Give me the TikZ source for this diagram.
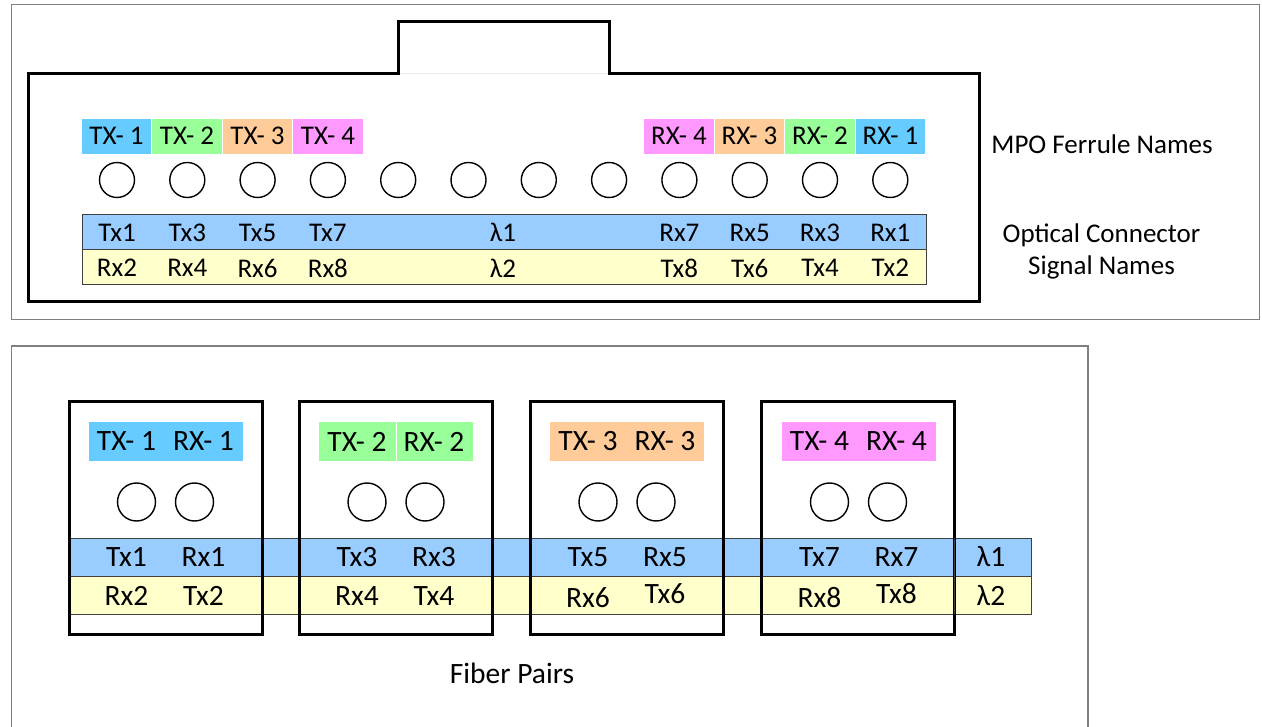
\documentclass[tikz,border=0pt]{standalone}
\usepackage{fontspec}
\setmainfont{Carlito}
\definecolor{cyanlbl}{HTML}{66CCFF}
\definecolor{greenlbl}{HTML}{99FF99}
\definecolor{orangelbl}{HTML}{FFCC99}
\definecolor{pinklbl}{HTML}{FF99FF}
\definecolor{blueband}{HTML}{99CCFF}
\definecolor{yellowband}{HTML}{FFFFCC}
\definecolor{panelgray}{HTML}{7F7F7F}
\begin{document}
\begin{tikzpicture}[x=1pt,y=-1pt,
  panel/.style={draw=panelgray,line width=1.2pt},
  heavy/.style={draw=black,line width=3pt,line join=miter},
  lbl/.style={font=\fontsize{27}{32}\selectfont,inner sep=0pt,anchor=center},
  lblb/.style={font=\fontsize{29.5}{34}\selectfont,inner sep=0pt,anchor=center},
  ferrule/.style={draw=white,line width=0.8pt,minimum width=70.5pt,minimum height=36pt,inner sep=0pt},
  pairlbl/.style={minimum width=154pt,minimum height=39pt,inner sep=0pt},
  fiber/.style={circle,draw=black,line width=1.4pt,minimum size=35pt,inner sep=0pt},
  fiberb/.style={circle,draw=black,line width=1.4pt,minimum size=38pt,inner sep=0pt},
  bandline/.style={draw=black!75,line width=1pt},
]
\useasboundingbox (0,0) rectangle (1262,727);
% ---------------- top panel ----------------
\draw[panel] (11.5,4.5) rectangle (1259.5,319.5);
\draw[black!8,line width=0.8pt] (398,73) -- (609,73);
\draw[heavy] (28,302) -- (28,74) -- (398,74) -- (398,22) -- (609,22) -- (609,74) -- (979,74) -- (979,302) -- cycle;
% ferrule name labels
\node[ferrule,fill=cyanlbl]   (ftx1) at (116.5,136) {};
\node[ferrule,fill=greenlbl]  (ftx2) at (187,136) {};
\node[ferrule,fill=orangelbl] (ftx3) at (257.5,136) {};
\node[ferrule,fill=pinklbl]   (ftx4) at (328,136) {};
\node[ferrule,fill=pinklbl]   (frx4) at (679,136) {};
\node[ferrule,fill=orangelbl] (frx3) at (749.5,136) {};
\node[ferrule,fill=greenlbl]  (frx2) at (820,136) {};
\node[ferrule,fill=cyanlbl]   (frx1) at (890.5,136) {};
\node[lbl] (tftx1) at (ftx1) {TX- 1};
\node[lbl] (tftx2) at (ftx2) {TX- 2};
\node[lbl] (tftx3) at (ftx3) {TX- 3};
\node[lbl] (tftx4) at (ftx4) {TX- 4};
\node[lbl] (tfrx4) at (frx4) {RX- 4};
\node[lbl] (tfrx3) at (frx3) {RX- 3};
\node[lbl] (tfrx2) at (frx2) {RX- 2};
\node[lbl] (tfrx1) at (frx1) {RX- 1};
% fibres
\foreach \i in {0,...,11}{
  \node[fiber] (c\i) at ({117+70.3*\i},180) {};
}
% signal bars
\filldraw[fill=blueband,bandline] (82,215) rectangle (926,250);
\filldraw[fill=yellowband,bandline] (82,250) rectangle (926,285);
\node[lbl] (s1) at (117,232.5) {Tx1};
\node[lbl] (s2) at (187.3,232.5) {Tx3};
\node[lbl] (s3) at (257.6,232.5) {Tx5};
\node[lbl] (s4) at (327.9,232.5) {Tx7};
\node[lbl] (s5) at (503,232.5) {λ1};
\node[lbl] (s6) at (679.4,232.5) {Rx7};
\node[lbl] (s7) at (749.7,232.5) {Rx5};
\node[lbl] (s8) at (820,232.5) {Rx3};
\node[lbl] (s9) at (890.3,232.5) {Rx1};
\node[lbl] (t1) at (117,268) {Rx2};
\node[lbl] (t2) at (187.3,268) {Rx4};
\node[lbl] (t3) at (257.6,268) {Rx6};
\node[lbl] (t4) at (327.9,268) {Rx8};
\node[lbl] (t5) at (503,268) {λ2};
\node[lbl] (t6) at (679.4,268) {Tx8};
\node[lbl] (t7) at (749.7,268) {Tx6};
\node[lbl] (t8) at (820,268) {Tx4};
\node[lbl] (t9) at (890.3,268) {Tx2};
\node[lbl] (mpo) at (1102,144) {MPO Ferrule Names};
\node[lbl,align=center,font=\fontsize{27}{32}\selectfont] (ocs) at (1101.5,251) {Optical Connector\\Signal Names};
% ---------------- bottom panel ----------------
\draw[panel] (11.5,740) -- (11.5,346) -- (1088,346) -- (1088,740);
\filldraw[fill=blueband,bandline] (69,538) rectangle (1031,576);
\filldraw[fill=yellowband,bandline] (69,576) rectangle (1031,614);
% pair label backgrounds
\node[pairlbl,fill=cyanlbl]   (p1) at (165.5,441.5) {};
\node[pairlbl,fill=greenlbl]  (p2) at (396,441.5) {};
\draw[white,line width=0.8pt] (p2.north) -- (p2.south);
\node[pairlbl,fill=orangelbl] (p3) at (627,441.5) {};
\node[pairlbl,fill=pinklbl]   (p4) at (858.5,441.5) {};
% boxes
\draw[heavy] (69,402) rectangle (262,634);
\draw[heavy] (299,402) rectangle (492.5,634);
\draw[heavy] (530,402) rectangle (723.5,634);
\draw[heavy] (761,402) rectangle (954.5,634);
% pair contents
\foreach \n/\c/\a/\b/\ta/\tb/\ra/\rb/\ya/\yb in {
  1/165.5/TX- 1/RX- 1/Tx1/Rx1/Rx2/Tx2/596/596,
  2/396/TX- 2/RX- 2/Tx3/Rx3/Rx4/Tx4/596/596,
  3/627/TX- 3/RX- 3/Tx5/Rx5/Rx6/Tx6/598/594,
  4/858.5/TX- 4/RX- 4/Tx7/Rx7/Rx8/Tx8/598/594}{
  \node[lblb] (pa\n) at ({\c-39},441.5) {\a};
  \node[lblb] (pb\n) at ({\c+38},441.5) {\b};
  \node[fiberb] (pc\n a) at ({\c-29},502) {};
  \node[fiberb] (pc\n b) at ({\c+29},502) {};
  \node[lblb] (pt\n a) at ({\c-39},557) {\ta};
  \node[lblb] (pt\n b) at ({\c+38},557) {\tb};
  \node[lblb] (pr\n a) at ({\c-39},\ya) {\ra};
  \node[lblb] (pr\n b) at ({\c+38},\yb) {\rb};
}
\draw[bandline] (954.5,538) -- (954.5,614);
\node[lblb] (l1) at (991,557) {λ1};
\node[lblb] (l2) at (991,596) {λ2};
\node[lblb] (fp) at (512,673) {Fiber Pairs};
\end{tikzpicture}
\end{document}
